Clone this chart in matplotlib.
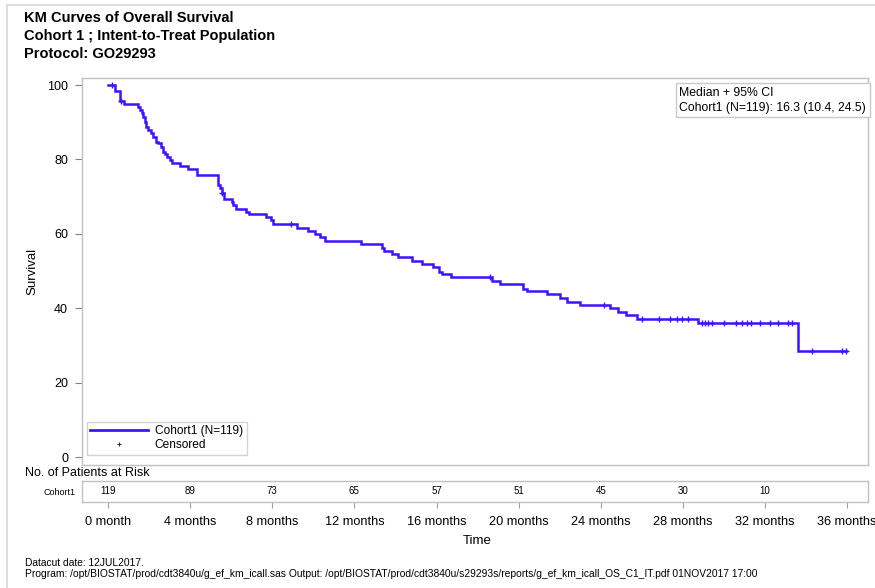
import numpy as np
import matplotlib
matplotlib.use("Agg")
import matplotlib.pyplot as plt
from matplotlib.lines import Line2D

plt.rcParams['font.family'] = ['Liberation Sans', 'DejaVu Sans']

# ---------------- data ----------------
event_times = [0.34, 0.58, 0.78, 1.48, 1.56, 1.64, 1.72, 1.80, 1.85, 1.96, 2.08, 2.21,
               2.34, 2.45, 2.57, 2.66, 2.78, 2.86, 3.02, 3.10, 3.51, 3.91, 4.35, 5.37,
               5.46, 5.54, 5.65, 6.02, 6.10, 6.23, 6.72, 6.88, 7.70, 7.92, 8.05, 9.19,
               9.76, 10.08, 10.33, 10.57, 12.31, 13.33, 13.45, 13.82, 14.14, 14.79,
               15.28, 15.81, 16.14, 16.25, 16.71, 18.69, 19.09, 20.23, 20.39, 21.37,
               22.02, 22.34, 22.99, 24.45, 24.86, 25.23, 25.75, 28.75, 33.62]
surv_values = [98.3, 95.8, 94.9, 94.1, 93.3, 92.4, 91.5, 90.1, 88.8, 87.9, 87.0, 86.1,
               84.8, 84.3, 83.4, 82.1, 81.5, 80.7, 79.8, 79.1, 78.2, 77.3, 75.7, 73.1,
               72.2, 71.1, 69.5, 68.6, 67.7, 66.8, 65.9, 65.3, 64.4, 63.7, 62.6, 61.7,
               60.8, 59.9, 59.1, 58.1, 57.2, 56.1, 55.4, 54.5, 53.7, 52.7,
               51.8, 51.0, 49.8, 49.1, 48.4, 47.4, 46.4, 45.3, 44.6, 43.7,
               42.8, 41.8, 40.9, 40.0, 39.1, 38.3, 37.1, 35.9, 28.6]
censor_times = [0.18, 0.64, 5.56, 8.90, 18.61, 24.18, 26.0, 26.85, 27.37, 27.70, 27.94,
                28.27, 28.92, 29.08, 29.24, 29.40, 30.0, 30.57, 30.87, 31.11, 31.32,
                31.76, 32.25, 32.62, 33.14, 33.30, 34.31, 35.74, 35.95]
last_time = 35.95

risk_times = [0, 4, 8, 12, 16, 20, 24, 28, 32]
risk_counts = [119, 89, 73, 65, 57, 51, 45, 30, 10]

xtick_vals = [0, 4, 8, 12, 16, 20, 24, 28, 32, 36]
xtick_labels = ['0 month', '4 months', '8 months', '12 months', '16 months',
                '20 months', '24 months', '28 months', '32 months', '36 months']
ytick_vals = [0, 20, 40, 60, 80, 100]

title_lines = ['KM Curves of Overall Survival',
               'Cohort 1 ; Intent-to-Treat Population',
               'Protocol: GO29293']
median_text = 'Median + 95% CI\nCohort1 (N=119): 16.3 (10.4, 24.5)'
series_label = 'Cohort1 (N=119)'
footer1 = 'Datacut date: 12JUL2017.'
footer2 = ('Program: /opt/BIOSTAT/prod/cdt3840u/g_ef_km_icall.sas Output: '
           '/opt/BIOSTAT/prod/cdt3840u/s29293s/reports/g_ef_km_icall_OS_C1_IT.pdf 01NOV2017 17:00')

# ---------------- figure ----------------
W, H = 875, 588
fig = plt.figure(figsize=(W / 100, H / 100), dpi=100)

def rect(x0, y0, x1, y1):
    return [x0 / W, 1 - y1 / H, (x1 - x0) / W, (y1 - y0) / H]

col = '#3d12ff'
grey = '#c0c0c0'

# outer frame lines
fig.add_artist(Line2D([7 / W, 1], [1 - 5 / H, 1 - 5 / H], color='#d8d8d8', lw=1.2))
fig.add_artist(Line2D([7 / W, 7 / W], [0, 1 - 5 / H], color='#d8d8d8', lw=1.2))

ax = fig.add_axes(rect(82, 78, 868, 465))
xs = [0] + event_times + [last_time]
ys = [100] + surv_values + [surv_values[-1]]
ax.step(xs, ys, where='post', color=col, lw=1.8, solid_joinstyle='miter')

# censor marks on step function
et = np.array(event_times)
sv = np.array([100] + surv_values)
cy = [sv[np.searchsorted(et, t, side='right')] for t in censor_times]
ax.plot(censor_times, cy, ls='none', marker='+', color=col, ms=5, mew=1.0)

ax.set_xlim(-1.27, 37.02)
ax.set_ylim(-2.15, 101.9)
ax.set_yticks(ytick_vals)
ax.set_yticklabels([str(v) for v in ytick_vals], fontsize=9)
ax.set_xticks([])
ax.tick_params(axis='y', direction='out', length=5, color='#808080', pad=5)
for s in ax.spines.values():
    s.set_color(grey)
    s.set_linewidth(1.0)
ax.set_ylabel('Survival', fontsize=9.5, labelpad=6)

leg = ax.legend(handles=[Line2D([], [], color=col, lw=2),
                         Line2D([], [], ls='none', marker='+', color='#333333', ms=3.5, mew=0.8)],
                labels=[series_label, 'Censored'], loc='lower left',
                bbox_to_anchor=(0.003, 0.02), fontsize=8.6, frameon=True, fancybox=False,
                handlelength=4.8, handletextpad=0.6, borderpad=0.3, labelspacing=0.18,
                borderaxespad=0.2)
leg.get_frame().set_edgecolor('#c8c8c8')
leg.get_frame().set_linewidth(1.0)

ax.text(0.9975, 0.978, median_text, transform=ax.transAxes, ha='right', va='top',
        multialignment='left', fontsize=8.8, linespacing=1.35,
        bbox=dict(boxstyle='square,pad=0.3', fc='white', ec='#c8c8c8', lw=1.0))

# titles
for i, t in enumerate(title_lines):
    fig.text(24 / W, 1 - (18 + 18 * i) / H, t, fontsize=10.5, fontweight='bold',
             va='center', ha='left')

# risk table
fig.text(25 / W, 1 - 473 / H, 'No. of Patients at Risk', fontsize=9, va='center', ha='left')
rax = fig.add_axes(rect(82, 481, 868, 502))
rax.set_xlim(-1.27, 37.02)
rax.set_ylim(0, 1)
for t, n in zip(risk_times, risk_counts):
    rax.text(t, 0.5, str(n), ha='center', va='center', fontsize=7)
rax.set_yticks([0.5])
rax.set_yticklabels(['Cohort1'], fontsize=6.5)
rax.tick_params(axis='y', length=0, pad=5)
rax.set_xticks(xtick_vals)
rax.set_xticklabels(xtick_labels, fontsize=9.2)
rax.tick_params(axis='x', direction='out', length=4, color='#a0a0a0', pad=6)
for s in rax.spines.values():
    s.set_color(grey)
    s.set_linewidth(1.0)
fig.text(477 / W, 1 - 541 / H, 'Time', fontsize=9.5, ha='center', va='center')

fig.text(25 / W, 1 - 563 / H, footer1, fontsize=7.4, va='center', ha='left')
fig.text(25 / W, 1 - 574 / H, footer2, fontsize=7.4, va='center', ha='left')

fig.savefig('out.png', dpi=100)
